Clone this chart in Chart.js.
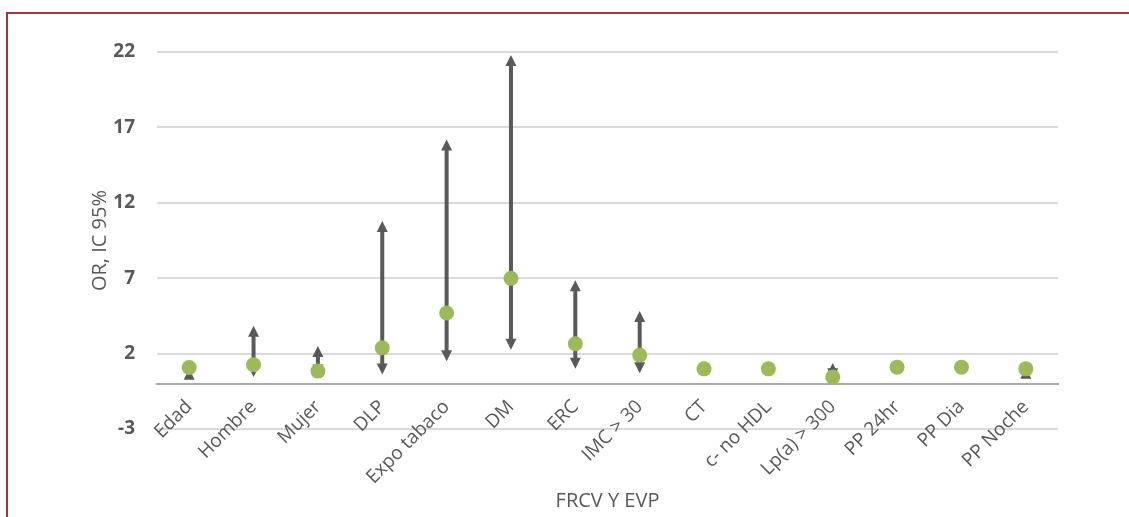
<!DOCTYPE html>
<html lang="es">
<head>
<meta charset="utf-8">
<title>OR, IC 95%</title>
<script src="https://cdn.jsdelivr.net/npm/chart.js@4/dist/chart.umd.min.js"></script>
<style>
  html, body { margin: 0; padding: 0; background: #fff; }
  .chart-container { position: relative; width: 1129px; height: 517px; overflow: hidden; }
  .chart-frame {
    position: absolute; left: 6px; top: 12px; right: -10px; bottom: -10px;
    border-top: 2px solid #9b3a3a; border-left: 2px solid #9b3a3a;
    pointer-events: none;
  }
</style>
</head>
<body>
<div class="chart-container">
  <canvas id="chart"></canvas>
  <div class="chart-frame"></div>
</div>
<script>
// factores de riesgo y odds ratio con su intervalo de confianza
const categories = ["Edad", "Hombre", "Mujer", "DLP", "Expo tabaco", "DM", "ERC", "IMC > 30",
                    "CT", "c- no HDL", "Lp(a) > 300", "PP 24hr", "PP Dia", "PP Noche"];
const oddsRatio = [1.08, 1.26, 0.84, 2.38, 4.69, 6.99, 2.65, 1.9, 0.99, 0.99, 0.44, 1.1, 1.1, 0.99];
const ciLow  = [0.55, 0.45, 0.55, 0.62, 1.5, 2.26, 1.0, 0.7, null, null, 0.3, null, null, 0.6];
const ciHigh = [1.0, 3.85, 2.5, 10.8, 16.2, 21.8, 6.86, 4.82, null, null, 1.37, null, null, 1.06];
const yTicks = [-3, 2, 7, 12, 17, 22];

const GREY = "#595959";
const FONT = "'Open Sans', 'DejaVu Sans', sans-serif";

// flechas del intervalo, dibujadas debajo de los puntos
const ciArrows = {
    id: "ciArrows",
    beforeDatasetsDraw(chart) {
        const { ctx, scales: { x, y } } = chart;
        const head = 11, half = 5.5;
        ctx.save();
        ctx.strokeStyle = GREY;
        ctx.fillStyle = GREY;
        ctx.lineWidth = 4;
        ciLow.forEach((lo, i) => {
            const hi = ciHigh[i];
            if (lo == null || hi == null) return;
            const px = x.getPixelForValue(i);
            const yLo = y.getPixelForValue(lo);
            const yHi = y.getPixelForValue(hi);
            ctx.beginPath();
            ctx.moveTo(px, yLo - head + 1);
            ctx.lineTo(px, yHi + head - 1);
            ctx.stroke();
            ctx.beginPath();
            ctx.moveTo(px, yHi);
            ctx.lineTo(px - half, yHi + head);
            ctx.lineTo(px + half, yHi + head);
            ctx.closePath();
            ctx.fill();
            ctx.beginPath();
            ctx.moveTo(px, yLo);
            ctx.lineTo(px - half, yLo - head);
            ctx.lineTo(px + half, yLo - head);
            ctx.closePath();
            ctx.fill();
        });
        ctx.restore();
    }
};

new Chart(document.getElementById("chart"), {
    type: "line",
    data: {
        labels: categories,
        datasets: [
            {
                label: "OR",
                data: oddsRatio,
                showLine: false,
                pointRadius: 7.5,
                pointHoverRadius: 7.5,
                pointBorderWidth: 0,
                pointBackgroundColor: "#9bbb59",
                borderColor: "#9bbb59",
            },
        ],
    },
    options: {
        responsive: true,
        maintainAspectRatio: false,
        animation: false,
        layout: { padding: { left: 0, right: 71, top: 52, bottom: 88 } },
        plugins: {
            legend: { display: false },
            tooltip: { enabled: false },
        },
        scales: {
            x: {
                type: "category",
                offset: true,
                position: { y: 0 },
                grid: { display: false, drawTicks: false },
                border: { display: true, color: "#ababab", width: 2 },
                ticks: {
                    color: GREY,
                    font: { family: FONT, size: 19 },
                    minRotation: 45,
                    maxRotation: 45,
                    autoSkip: false,
                    padding: 12,
                },
                title: {
                    display: true,
                    text: "FRCV Y EVP",
                    color: GREY,
                    font: { family: FONT, size: 20 },
                    padding: { top: 0, bottom: 0 },
                },
                afterFit(scale) { scale.height = 130; },
            },
            y: {
                min: -3,
                max: 22,
                afterBuildTicks(scale) { scale.ticks = yTicks.map((v) => ({ value: v })); },
                grid: { color: "#dadada", lineWidth: 2, drawTicks: false },
                border: { display: false },
                ticks: {
                    color: GREY,
                    font: { family: FONT, size: 19, weight: "bold" },
                    padding: 22,
                },
                title: {
                    display: true,
                    text: "OR, IC 95%",
                    color: GREY,
                    font: { family: FONT, size: 20 },
                    padding: { top: 88, bottom: 0 },
                },
                afterFit(scale) { scale.width = 157; },
            },
        },
    },
    plugins: [ciArrows],
});
</script>
</body>
</html>
